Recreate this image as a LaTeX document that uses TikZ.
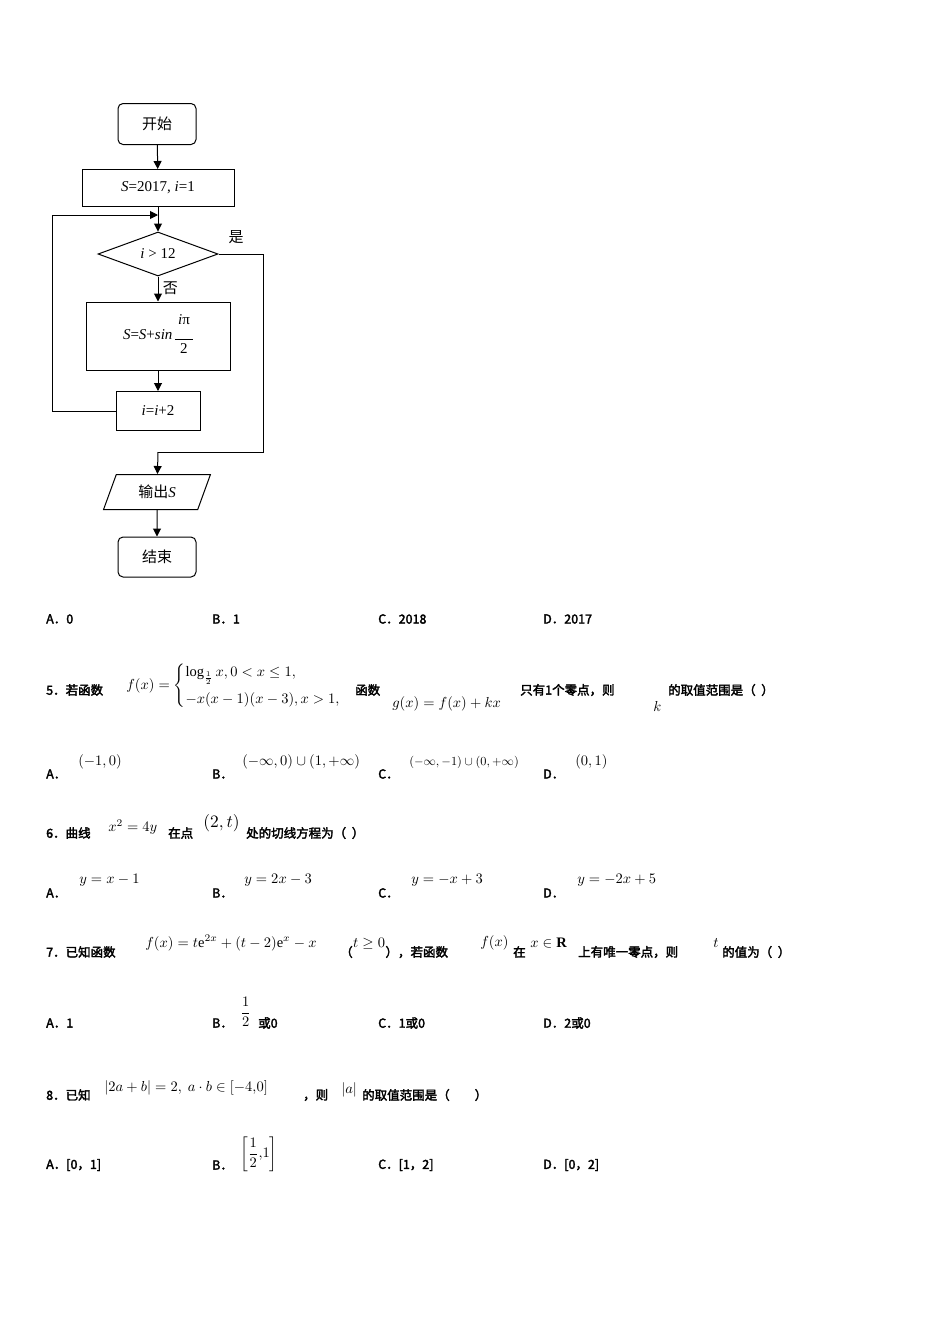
\documentclass[tikz,border=0pt]{standalone}
\usepackage{fontspec}
\usepackage{amsmath}
\setmainfont{Liberation Serif}
\newfontfamily\cjk{Noto Sans CJK SC}
\newfontfamily\cjkb{Noto Sans CJK SC}[AutoFakeBold=2.5]
\usetikzlibrary{shapes.geometric,arrows.meta}
\begin{document}
\begin{tikzpicture}[x=1pt,y=-1pt,
  box/.style={draw,line width=1pt,minimum height=37pt,inner sep=2pt,font=\fontsize{15}{17}\selectfont},
  rbox/.style={box,rounded corners=5pt,minimum width=78pt,minimum height=41pt},
  arr/.style={-{Triangle[length=8pt,width=8pt]},line width=1pt},
  ln/.style={line width=1pt},
  t/.style={anchor=west,inner sep=0pt,font=\fontsize{12.5}{14}\selectfont\bfseries\cjkb},
  m/.style={anchor=west,inner sep=0pt,scale=1.45}]
\useasboundingbox (0,0) rectangle (950,1344);
% flowchart
\node[rbox] (start) at (157,124) {\cjk 开始};
\node[box,minimum width=152pt] (init) at (158,188) {\textit{S}=2017, \textit{i}=1};
\node[diamond,draw,line width=1pt,aspect=2.7,minimum width=120pt,minimum height=44pt,inner sep=0pt,font=\fontsize{15}{17}\selectfont] (cond) at (158,254) {\textit{i} \textgreater{} 12};
\node[box,minimum width=144pt,minimum height=68pt] (upd) at (158,336) {\textit{S}=\textit{S}+\textit{sin}\,\begin{tabular}{@{}c@{}}\textit{i}π\\[-2pt]\rule{18pt}{0.6pt}\\[-3pt]2\end{tabular}};
\node[box,minimum width=84pt,minimum height=39pt] (inc) at (158,411) {\textit{i}=\textit{i}+2};
\node[trapezium,trapezium left angle=70,trapezium right angle=110,draw,line width=1pt,minimum width=90pt,minimum height=35pt,inner sep=2pt,font=\fontsize{15}{17}\selectfont] (out) at (157,492) {{\cjk 输出}\textit{S}};
\node[rbox,minimum height=40pt] (end) at (157,557) {\cjk 结束};
\coordinate (j1) at (158,215);
\coordinate (j2) at (158,452);
\draw[arr] (start) -- (init);
\draw[arr] (init) -- (cond);
\draw[arr] (inc.west) -| (52,215) -- (j1);
\draw[arr] (cond) -- (upd) node[pos=0.45,right=1pt,font=\fontsize{15}{17}\selectfont\cjk]{否};
\draw[arr] (upd) -- (inc);
\draw[ln] (cond.east) -| (263,452) -- (j2);
\draw[arr] (j2) -- (out);
\draw[arr] (out) -- (end);
\node[font=\fontsize{15}{17}\selectfont\cjk] (yes) at (236,237) {是};
% answers Q4
\node[t] (a4) at (46,619) {A．0};
\node[t] (b4) at (212,619) {B．1};
\node[t] (c4) at (378,619) {C．2018};
\node[t] (d4) at (543,619) {D．2017};
% Q5
\node[t] (q5) at (46,690) {5．若函数};
\node[m] (f5) at (126,686) {$f(x)=\begin{cases}\log_{\frac12}x,0<x\le 1,\\[4pt] -x(x-1)(x-3),x>1,\end{cases}$};
\node[t] (q5b) at (355,690) {函数};
\node[m] (g5) at (392,704) {$g(x)=f(x)+kx$};
\node[t] (q5c) at (520,690) {只有1个零点，则};
\node[m] (k5) at (653,706) {$k$};
\node[t] (q5d) at (668,690) {的取值范围是（\ \ ）};
\node[t] (a5) at (46,774) {A．};
\node[m] (a5m) at (78,762) {$(-1,0)$};
\node[t] (b5) at (212,774) {B．};
\node[m] (b5m) at (242,762) {$(-\infty,0)\cup(1,+\infty)$};
\node[t] (c5) at (378,774) {C．};
\node[m,scale=0.85] (c5m) at (409,762) {$(-\infty,-1)\cup(0,+\infty)$};
\node[t] (d5) at (543,774) {D．};
\node[m] (d5m) at (575,762) {$(0,1)$};
% Q6
\node[t] (q6) at (46,833) {6．曲线};
\node[m] (c6) at (108,827) {$x^2=4y$};
\node[t] (q6b) at (168,833) {在点};
\node[m,scale=1.2] (p6) at (203,823) {$(2,t)$};
\node[t] (q6c) at (246,833) {处的切线方程为（\ \ ）};
\node[t] (a6) at (46,893) {A．};
\node[m] (a6m) at (79,880) {$y=x-1$};
\node[t] (b6) at (212,893) {B．};
\node[m] (b6m) at (244,880) {$y=2x-3$};
\node[t] (c6o) at (378,893) {C．};
\node[m] (c6m) at (411,880) {$y=-x+3$};
\node[t] (d6) at (543,893) {D．};
\node[m] (d6m) at (577,880) {$y=-2x+5$};
% Q7
\node[t] (q7) at (46,952) {7．已知函数};
\node[m] (f7) at (145,943) {$f(x)=t\mathrm{e}^{2x}+(t-2)\mathrm{e}^{x}-x$};
\node[t] (lp7) at (340,952) {（};
\node[m] (t7) at (lp7.east |- 0,944) {$t\geq 0$};
\node[t] (q7c) at (t7.east |- 0,952) {），若函数};
\node[m] (f7b) at (480,943) {$f(x)$};
\node[t] (q7d) at (513,952) {在};
\node[m] (x7) at (530,943) {$x\in\mathbf{R}$};
\node[t] (q7e) at (578,952) {上有唯一零点，则};
\node[m] (tt7) at (713,943) {$t$};
\node[t] (q7f) at (722,952) {的值为（\ \ ）};
\node[t] (a7) at (46,1023) {A．1};
\node[t] (b7) at (212,1023) {B．};
\node[m] (b7m) at (240,1012) {$\dfrac{1}{2}$};
\node[t] (b7t) at (258,1023) {或0};
\node[t] (c7) at (378,1023) {C．1或0};
\node[t] (d7) at (543,1023) {D．2或0};
% Q8
\node[t] (q8) at (46,1095) {8．已知};
\node[m] (e8) at (104,1088) {$\left|2a+b\right|=2,\ a\cdot b\in\left[-4{,}0\right]$};
\node[t] (q8b) at (303,1095) {，则};
\node[m] (a8) at (341,1090) {$\left|a\right|$};
\node[t] (q8c) at (362,1095) {的取值范围是（\qquad）};
\node[t] (a8o) at (46,1165) {A．[0，1]};
\node[t] (b8) at (212,1165) {B．};
\node[m] (b8m) at (240,1154) {$\left[\dfrac{1}{2}{,}1\right]$};
\node[t] (c8) at (378,1165) {C．[1，2]};
\node[t] (d8) at (543,1165) {D．[0，2]};
\end{tikzpicture}
\end{document}
